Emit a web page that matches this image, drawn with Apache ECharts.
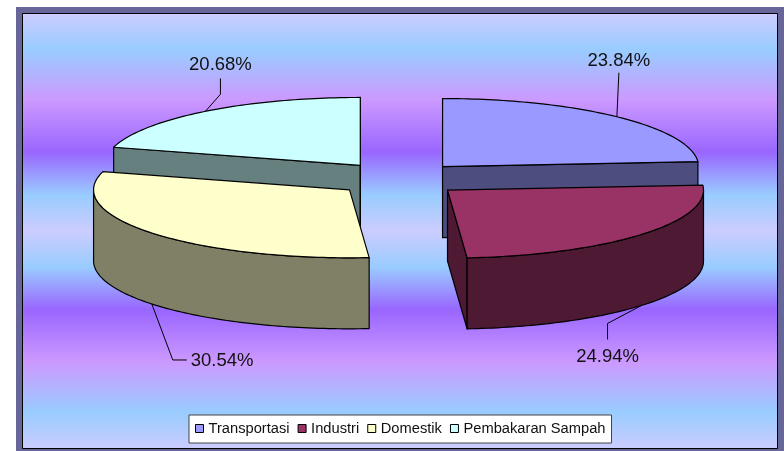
<!DOCTYPE html>
<html>
<head>
<meta charset="utf-8">
<title>Pie chart</title>
<style>
  html, body { margin: 0; padding: 0; background: #fff; }
  #main { width: 784px; height: 451px; }
</style>
<script src="https://cdn.jsdelivr.net/npm/echarts@6/dist/echarts.min.js"></script>
</head>
<body>
<div id="main"></div>
<script>
// chart data
var categories = ['Transportasi', 'Industri', 'Domestik', 'Pembakaran Sampah']
var shares = [23.84, 24.94, 30.54, 20.68]

// slice colours, top face and darker side
var topColors = ['#9999ff', '#993366', '#ffffcc', '#ccffff']
var sideColors = ['#4d4d80', '#4d1933', '#808066', '#668080']
// back slices are painted first
var sliceZ = [2, 3, 3, 2]

// background bands: [y in px, colour]
var bandStops = [
  [13, '#ccccff'], [50, '#99ccff'], [100, '#cc99ff'], [152, '#9966ff'], [195, '#99ccff'], [231, '#ccccff'],
  [267, '#99ccff'], [310, '#9966ff'], [362, '#cc99ff'], [412, '#99ccff'], [449, '#ccccff']
]

// pie layout
var pieX = 399
var pieY = 179
var radiusX = 256
var radiusY = 68
var depth = 71
var explode = 64

// leader lines, offsets from the rim anchor: elbow, label end, text offset
var leaderElbow = [[2, -44], [-34, 18], [21, 56], [15, -17]]
var leaderEnd = [[2, -44], [-34, 34], [35, 56], [15, -33]]
var labelOffset = [[2, -56], [-34, 51], [39, 57], [15, -46]]
var labelAlign = ['center', 'center', 'left', 'center']

var starts = []
var total = 0
shares.forEach(function (v) {
  starts.push(total)
  total += v
})

function toAngle(pct) {
  return (pct / 100) * Math.PI * 2
}

function rimPoint(cx, cy, a, drop) {
  return [cx + radiusX * Math.sin(a), cy - radiusY * Math.cos(a) + drop]
}

function arcPoints(cx, cy, a0, a1, drop) {
  var n = Math.max(2, Math.ceil((a1 - a0) / 0.02))
  var pts = []
  for (var i = 0; i <= n; i++) {
    pts.push(rimPoint(cx, cy, a0 + ((a1 - a0) * i) / n, drop))
  }
  return pts
}

function poly(points, fill, stroke) {
  return {
    type: 'polygon',
    shape: { points: points },
    style: { fill: fill, stroke: stroke || '#000', lineWidth: 1.2, lineJoin: 'round' }
  }
}

function radialFace(cx, cy, a, fill) {
  var rim = rimPoint(cx, cy, a, 0)
  return poly([[cx, cy], rim, [rim[0], rim[1] + depth], [cx, cy + depth]], fill)
}

function renderSlice(params, api) {
  var idx = params.seriesIndex
  var a0 = toAngle(api.value(0))
  var a1 = toAngle(api.value(0) + api.value(1))
  var mid = (a0 + a1) / 2
  var cx = pieX + explode * Math.sin(mid)
  var cy = pieY - (explode * Math.cos(mid) * radiusY) / radiusX
  var children = []

  // flat cut faces that look towards the viewer
  if (Math.sin(a0) < 1e-6) children.push(radialFace(cx, cy, a0, sideColors[idx]))
  if (Math.sin(a1) > -1e-6) children.push(radialFace(cx, cy, a1, sideColors[idx]))

  // outer wall, only the front half of the rim shows
  var w0 = Math.max(a0, Math.PI / 2)
  var w1 = Math.min(a1, (Math.PI * 3) / 2)
  if (w1 > w0) {
    var upper = arcPoints(cx, cy, w0, w1, 0)
    var lower = arcPoints(cx, cy, w0, w1, depth).reverse()
    children.push(poly(upper.concat(lower), sideColors[idx]))
  }

  children.push(poly([[cx, cy]].concat(arcPoints(cx, cy, a0, a1, 0)), topColors[idx]))

  // leader line and percent label, hung on the rim at the middle of the slice
  var drop = Math.cos(mid) < 0 ? depth : 0
  var anchor = rimPoint(cx, cy, mid, drop)
  children.push({
    type: 'polyline',
    shape: {
      points: [
        anchor,
        [anchor[0] + leaderElbow[idx][0], anchor[1] + leaderElbow[idx][1]],
        [anchor[0] + leaderEnd[idx][0], anchor[1] + leaderEnd[idx][1]]
      ]
    },
    style: { fill: 'none', stroke: '#000', lineWidth: 1 }
  })
  children.push({
    type: 'text',
    style: {
      text: api.value(1).toFixed(2) + '%',
      x: anchor[0] + labelOffset[idx][0],
      y: anchor[1] + labelOffset[idx][1],
      align: labelAlign[idx],
      verticalAlign: 'middle',
      font: '18.5px "Liberation Sans"',
      fill: '#111'
    }
  })
  return { type: 'group', children: children }
}

var myChart = echarts.init(document.getElementById('main'))

var plotTop = bandStops[0][0]
var plotH = bandStops[bandStops.length - 1][0] - plotTop

var option = {
  animation: false,
  backgroundColor: '#fff',
  graphic: {
    elements: [
      {
        type: 'rect',
        z: 0,
        silent: true,
        shape: { x: 16, y: 7, width: 768, height: 444 },
        style: { fill: '#666699' }
      },
      {
        type: 'rect',
        z: 0,
        silent: true,
        shape: { x: 22.5, y: 13.5, width: 755, height: 435 },
        style: {
          stroke: '#000',
          lineWidth: 1,
          fill: new echarts.graphic.LinearGradient(
            0, 0, 0, 1,
            bandStops.map(function (s) {
              return { offset: (s[0] - plotTop) / plotH, color: s[1] }
            })
          )
        }
      }
    ]
  },
  legend: {
    left: 189,
    top: 415,
    data: categories,
    icon: 'rect',
    itemWidth: 8,
    itemHeight: 8,
    itemGap: 8,
    padding: [6, 6, 7, 6],
    backgroundColor: '#fff',
    borderColor: '#444',
    borderWidth: 1,
    selectedMode: false,
    itemStyle: { borderColor: '#000', borderWidth: 1 },
    textStyle: { fontFamily: 'Liberation Sans', fontSize: 14.7, color: '#111' }
  },
  series: categories.map(function (name, i) {
    return {
      type: 'custom',
      name: name,
      coordinateSystem: 'none',
      z: sliceZ[i],
      silent: true,
      itemStyle: { color: topColors[i] },
      renderItem: renderSlice,
      data: [[starts[i], shares[i]]]
    }
  })
}
option && myChart.setOption(option)
</script>
</body>
</html>
